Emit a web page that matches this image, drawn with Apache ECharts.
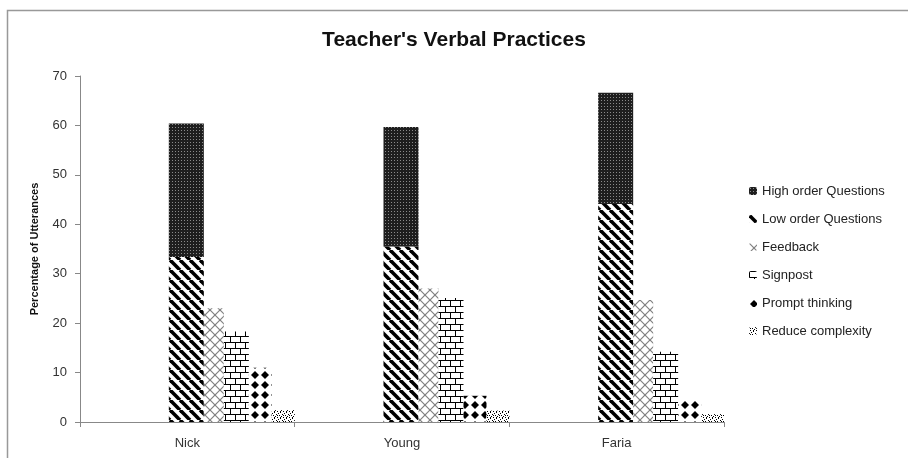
<!DOCTYPE html>
<html>
<head>
<meta charset="utf-8">
<script src="https://cdn.jsdelivr.net/npm/echarts@6/dist/echarts.min.js"></script>
<style>
  html, body { margin: 0; padding: 0; background: #fff; }
  #main { width: 908px; height: 458px; }
</style>
</head>
<body>
<div id="main"></div>
<script>
var teachers = ["Nick", "Young", "Faria"];
var seriesNames = ["High order Questions", "Low order Questions", "Feedback", "Signpost", "Prompt thinking", "Reduce complexity"];
var highOrder = [27.0, 24.2, 22.5];
var lowOrder = [33.4, 35.5, 44.1];
var feedback = [23.0, 27.0, 24.7];
var signpost = [18.3, 25.1, 14.2];
var promptThinking = [11.0, 5.3, 4.3];
var reduceComplexity = [2.4, 2.3, 1.6];
var yTicks = { min: 0, max: 70, interval: 10 };

// little canvas tiles used as fill patterns (black & white chart)
function tile(w, h, draw) {
  var c = document.createElement("canvas");
  c.width = w; c.height = h;
  var ctx = c.getContext("2d");
  ctx.fillStyle = "#fff";
  ctx.fillRect(0, 0, w, h);
  draw(ctx);
  return { image: c, repeat: "repeat" };
}

var patHigh = tile(3, 3, function (ctx) {
  ctx.fillStyle = "#1e1e1e";
  ctx.fillRect(0, 0, 3, 3);
  ctx.fillStyle = "#8a8a8a";
  ctx.fillRect(1, 1, 1, 1);
});
var patLow = tile(10, 10, function (ctx) {
  ctx.strokeStyle = "#000";
  ctx.lineWidth = 3.6;
  [-10, 0, 10].forEach(function (o) {
    ctx.beginPath(); ctx.moveTo(o, 0); ctx.lineTo(o + 10, 10); ctx.stroke();
  });
});
var patFeedback = tile(10, 10, function (ctx) {
  ctx.strokeStyle = "#808080";
  ctx.lineWidth = 1.2;
  [-10, 0, 10].forEach(function (o) {
    ctx.beginPath(); ctx.moveTo(o, 0); ctx.lineTo(o + 10, 10); ctx.stroke();
    ctx.beginPath(); ctx.moveTo(o + 10, 0); ctx.lineTo(o, 10); ctx.stroke();
  });
});
var patSignpost = tile(10, 12, function (ctx) {
  ctx.fillStyle = "#000";
  ctx.fillRect(0, 0, 10, 1);
  ctx.fillRect(0, 6, 10, 1);
  ctx.fillRect(0, 0, 1, 6);
  ctx.fillRect(5, 6, 1, 6);
});
var patPrompt = tile(10, 10, function (ctx) {
  ctx.fillStyle = "#000";
  ctx.beginPath();
  ctx.moveTo(5, 1); ctx.lineTo(9, 5); ctx.lineTo(5, 9); ctx.lineTo(1, 5);
  ctx.closePath(); ctx.fill();
});
var patReduce = tile(6, 6, function (ctx) {
  ctx.fillStyle = "#000";
  [[0, 0], [3, 1], [1, 3], [4, 4], [2, 5], [5, 2], [1, 1], [4, 3]].forEach(function (p) {
    ctx.fillRect(p[0], p[1], 1, 1);
  });
});

function bar(name, data, width, pattern, stack) {
  var s = {
    name: name,
    type: "bar",
    data: data,
    barWidth: width,
    barGap: "0%",
    itemStyle: { color: pattern },
    emphasis: { disabled: true }
  };
  if (stack) s.stack = stack;
  return s;
}

var chart = echarts.init(document.getElementById("main"));
chart.setOption({
  animation: false,
  backgroundColor: "#fff",
  title: {
    text: "Teacher's Verbal Practices",
    left: "center",
    top: 25,
    textStyle: { fontFamily: "Liberation Sans", fontSize: 21, fontWeight: "bold", color: "#111" }
  },
  legend: {
    orient: "vertical",
    left: 744,
    top: 179,
    itemWidth: 8,
    itemHeight: 8,
    itemGap: 14,
    data: seriesNames,
    textStyle: { fontFamily: "Liberation Sans", fontSize: 13, color: "#222", lineHeight: 14 }
  },
  graphic: [{
    type: "rect",
    silent: true,
    shape: { x: 7.5, y: 10.5, width: 1000, height: 1000 },
    style: { fill: "none", stroke: "#999", lineWidth: 1.5 }
  }],
  grid: { left: 80, right: 184, top: 76, bottom: 36 },
  xAxis: {
    type: "category",
    data: teachers,
    axisLine: { lineStyle: { color: "#888" } },
    axisTick: { show: true, length: 5, lineStyle: { color: "#888" } },
    axisLabel: { fontFamily: "Liberation Sans", fontSize: 13, color: "#333", margin: 15 }
  },
  yAxis: {
    type: "value",
    min: yTicks.min,
    max: yTicks.max,
    interval: yTicks.interval,
    name: "Percentage of Utterances",
    nameLocation: "middle",
    nameGap: 40,
    nameTextStyle: { fontFamily: "Liberation Sans", fontSize: 11, fontWeight: "bold", color: "#111" },
    axisLine: { show: true, lineStyle: { color: "#888" } },
    axisTick: { show: true, length: 5, lineStyle: { color: "#888" } },
    splitLine: { show: false },
    axisLabel: { fontFamily: "Liberation Sans", fontSize: 13, color: "#333", margin: 13 }
  },
  series: [
    // empty spacer so the bar group sits at the right side of each category
    { name: "spacer", type: "bar", data: [null, null, null], barWidth: 89, barGap: "0%" },
    bar(seriesNames[1], lowOrder, 35, patLow, "questions"),
    bar(seriesNames[0], highOrder, 35, patHigh, "questions"),
    bar(seriesNames[2], feedback, 20, patFeedback),
    bar(seriesNames[3], signpost, 25, patSignpost),
    bar(seriesNames[4], promptThinking, 23, patPrompt),
    bar(seriesNames[5], reduceComplexity, 23, patReduce)
  ]
});
</script>
</body>
</html>
